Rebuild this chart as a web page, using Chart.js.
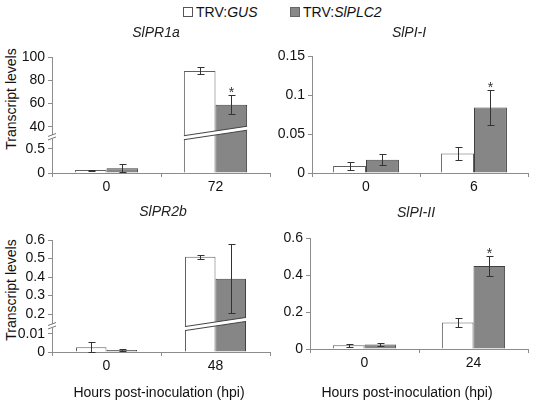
<!DOCTYPE html>
<html>
<head>
<meta charset="utf-8">
<script src="https://cdn.jsdelivr.net/npm/chart.js@4.4.1/dist/chart.umd.min.js"></script>
<style>
body { margin: 0; background: #fff; width: 533px; height: 403px; position: relative; overflow: hidden;
       font-family: "Liberation Sans", Arial, sans-serif; color: #111; }
.box { position: absolute; }
.lg { position: absolute; top: 4px; font-size: 14px; line-height: 16px; white-space: nowrap; }
.sw { display: inline-block; width: 8px; height: 8px; border: 1px solid #555; margin-right: 3px; vertical-align: 0px; }
.yt { position: absolute; font-size: 14px; white-space: nowrap; transform: translate(-50%, -50%) rotate(-90deg); }
.tt { position: absolute; font-size: 14px; white-space: nowrap; transform: translate(-50%, -50%); }
.tt.it { font-style: italic; color: #222; }
</style>
</head>
<body>
<div class="lg" style="left:183px"><span class="sw" style="background:#fff"></span>TRV:<i>GUS</i></div>
<div class="lg" style="left:290px"><span class="sw" style="background:#888;border-color:#666"></span>TRV:<i>SlPLC2</i></div>
<div class="yt" style="left:11px; top:99px">Transcript levels</div>
<div class="yt" style="left:11px; top:290px">Transcript levels</div>

<div class="box" style="left:0px; top:0px; width:272px; height:200px"><canvas id="c1" width="272" height="200"></canvas></div>
<div class="box" style="left:260px; top:0px; width:273px; height:200px"><canvas id="c2" width="273" height="200"></canvas></div>
<div class="box" style="left:0px; top:190px; width:272px; height:213px"><canvas id="c3" width="272" height="213"></canvas></div>
<div class="box" style="left:260px; top:190px; width:273px; height:213px"><canvas id="c4" width="273" height="213"></canvas></div>

<div class="tt it" style="left:156px; top:32px">SlPR1a</div>
<div class="tt it" style="left:409px; top:32px">SlPI-I</div>
<div class="tt it" style="left:163px; top:211px">SlPR2b</div>
<div class="tt it" style="left:416px; top:212px">SlPI-II</div>
<div class="tt" style="left:159px; top:392px">Hours post-inoculation (hpi)</div>
<div class="tt" style="left:407px; top:392px">Hours post-inoculation (hpi)</div>

<script>
// SlPR1a
const pr1aHours = ['0', '72'];
const pr1aGus = [0.06, 88];
const pr1aGusErr = [0.01, 3];
const pr1aPlc2 = [0.1, 59];
const pr1aPlc2Err = [0.08, 8];
const pr1aStars = [false, true];
const pr1aTicks = [0, 0.5, 40, 60, 80, 100];

// SlPI-I
const pi1Hours = ['0', '6'];
const pi1Gus = [0.009, 0.025];
const pi1GusErr = [0.005, 0.008];
const pi1Plc2 = [0.017, 0.084];
const pi1Plc2Err = [0.007, 0.022];
const pi1Stars = [false, true];
const pi1Ticks = [0, 0.05, 0.1, 0.15];

// SlPR2b
const pr2bHours = ['0', '48'];
const pr2bGus = [0.0026, 0.51];
const pr2bGusErr = [0.0027, 0.01];
const pr2bPlc2 = [0.0011, 0.39];
const pr2bPlc2Err = [0.0005, 0.187];
const pr2bStars = [false, false];
const pr2bTicks = [0, 0.01, 0.2, 0.3, 0.4, 0.5, 0.6];

// SlPI-II
const pi2Hours = ['0', '24'];
const pi2Gus = [0.02, 0.143];
const pi2GusErr = [0.007, 0.024];
const pi2Plc2 = [0.025, 0.448];
const pi2Plc2Err = [0.008, 0.054];
const pi2Stars = [false, true];
const pi2Ticks = [0, 0.2, 0.4, 0.6];

const FONT = '"Liberation Sans", Arial, sans-serif';
const AXIS = '#8c8c8c';

// linear axis with piecewise segments (used for the broken axes)
class BrokenScale extends Chart.LinearScale {
  toDecimal(v) {
    const xs = this.options.anchorValues, fs = this.options.anchorFracs;
    if (v <= xs[0]) return fs[0];
    for (let i = 1; i < xs.length; i++) {
      if (v <= xs[i]) return fs[i - 1] + (v - xs[i - 1]) / (xs[i] - xs[i - 1]) * (fs[i] - fs[i - 1]);
    }
    const n = xs.length - 1;
    return fs[n] + (v - xs[n]) / (xs[n] - xs[n - 1]) * (fs[n] - fs[n - 1]);
  }
  buildTicks() {
    return this.options.tickValues.map(v => ({ value: v }));
  }
  getPixelForValue(v) {
    return this.getPixelForDecimal(this.toDecimal(v));
  }
  getValueForPixel(p) {
    const d = this.getDecimalForPixel(p);
    const xs = this.options.anchorValues, fs = this.options.anchorFracs;
    for (let i = 1; i < xs.length; i++) {
      if (d <= fs[i]) return xs[i - 1] + (d - fs[i - 1]) / (fs[i] - fs[i - 1]) * (xs[i] - xs[i - 1]);
    }
    return xs[xs.length - 1];
  }
}
BrokenScale.id = 'broken';
Chart.register(BrokenScale);

const brokenAxis = {
  id: 'brokenAxis',
  afterDatasetsDraw(chart, args, opts) {
    if (!opts || opts.lo === undefined) return;
    const y = chart.scales.y, ctx = chart.ctx;
    const mid = (y.getPixelForValue(opts.lo) + y.getPixelForValue(opts.hi)) / 2;
    const a = chart.getDatasetMeta(0).data[opts.index];
    const b = chart.getDatasetMeta(1).data[opts.index];
    const xl = a.x - a.width / 2, xr = b.x + b.width / 2, xc = (xl + xr) / 2;
    const yc = mid + opts.bandShift, k = -0.15, h = 2;
    ctx.save();
    ctx.fillStyle = '#fff';
    ctx.beginPath();
    ctx.moveTo(xl, yc + k * (xl - xc) - h);
    ctx.lineTo(xr, yc + k * (xr - xc) - h);
    ctx.lineTo(xr, yc + k * (xr - xc) + h);
    ctx.lineTo(xl, yc + k * (xl - xc) + h);
    ctx.closePath();
    ctx.fill();
    ctx.strokeStyle = '#444';
    ctx.lineWidth = 1;
    ctx.beginPath();
    ctx.moveTo(xl, yc + k * (xl - xc) - h);
    ctx.lineTo(xr, yc + k * (xr - xc) - h);
    ctx.moveTo(xl, yc + k * (xl - xc) + h);
    ctx.lineTo(xr, yc + k * (xr - xc) + h);
    ctx.stroke();
    // little break mark on the y axis
    const ax = chart.chartArea.left, am = mid + opts.axisShift;
    ctx.fillRect(ax - 1.5, am - 2, 3, 4);
    ctx.strokeStyle = '#777';
    ctx.beginPath();
    ctx.moveTo(ax - 4, am - 0.5); ctx.lineTo(ax + 4, am - 3.5);
    ctx.moveTo(ax - 4, am + 3); ctx.lineTo(ax + 4, am);
    ctx.stroke();
    ctx.restore();
  }
};

const errorBars = {
  id: 'errorBars',
  afterDatasetsDraw(chart) {
    const ctx = chart.ctx, y = chart.scales.y;
    ctx.save();
    ctx.strokeStyle = '#333';
    ctx.fillStyle = '#333';
    ctx.lineWidth = 1;
    chart.data.datasets.forEach((ds, i) => {
      chart.getDatasetMeta(i).data.forEach((bar, j) => {
        const v = ds.data[j], e = ds.errors[j];
        const top = Math.round(y.getPixelForValue(v + e)) + 0.5;
        const bot = Math.round(y.getPixelForValue(Math.max(v - e, 0))) + 0.5;
        const x = Math.round(bar.x) + 0.5;
        ctx.beginPath();
        ctx.moveTo(x, top); ctx.lineTo(x, bot);
        ctx.moveTo(x - 3, top); ctx.lineTo(x + 4, top);
        ctx.moveTo(x - 3, bot); ctx.lineTo(x + 4, bot);
        ctx.stroke();
        if (ds.stars[j]) {
          ctx.font = '14px ' + FONT;
          ctx.textAlign = 'center';
          ctx.textBaseline = 'alphabetic';
          ctx.fillText('*', x, top + 1);
        }
      });
    });
    ctx.restore();
  }
};

function panel(id, p) {
  new Chart(document.getElementById(id), {
    type: 'bar',
    data: {
      labels: p.hours,
      datasets: [
        { label: 'TRV:GUS', data: p.gus, errors: p.gusErr, stars: [false, false],
          backgroundColor: '#ffffff', borderColor: '#606060', borderWidth: 1 },
        { label: 'TRV:SlPLC2', data: p.plc2, errors: p.plc2Err, stars: p.stars,
          backgroundColor: '#868686', borderColor: '#404040', borderWidth: 1 }
      ]
    },
    plugins: [brokenAxis, errorBars],
    options: {
      responsive: false,
      animation: false,
      devicePixelRatio: 1,
      datasets: { bar: { categoryPercentage: p.cat, barPercentage: 1.0 } },
      layout: { padding: { left: 0, right: p.right, top: p.top, bottom: 0 } },
      plugins: {
        legend: { display: false },
        tooltip: { enabled: false },
        title: { display: false },
        brokenAxis: p.brk || {}
      },
      scales: {
        x: {
          grid: { display: true, drawOnChartArea: false, drawTicks: true, tickLength: 4, offset: true, color: AXIS },
          border: { display: true, color: AXIS },
          ticks: { color: '#111', padding: 2, font: { family: FONT, size: 14 } },
          afterFit: s => { s.height = p.xHeight; }
        },
        y: {
          type: 'broken',
          min: 0,
          max: p.ticks[p.ticks.length - 1],
          anchorValues: p.anchorValues,
          anchorFracs: p.anchorFracs,
          tickValues: p.ticks,
          grid: { display: true, drawOnChartArea: false, drawTicks: true, tickLength: 4, color: AXIS },
          border: { display: true, color: AXIS },
          ticks: { color: '#111', padding: 3, autoSkip: false, font: { family: FONT, size: 14 },
                   callback: v => String(v) },
          afterFit: s => { s.width = p.yWidth; }
        }
      }
    }
  });
}

panel('c1', {
  hours: pr1aHours, gus: pr1aGus, gusErr: pr1aGusErr, plc2: pr1aPlc2, plc2Err: pr1aPlc2Err,
  stars: pr1aStars, ticks: pr1aTicks, anchorValues: [0, 0.5, 40, 100], anchorFracs: [0, 0.207, 0.397, 1],
  brk: { lo: 0.5, hi: 40, index: 1, bandShift: -5, axisShift: -1 },
  cat: 0.58, right: 2, top: 57, yWidth: 52, xHeight: 27
});
panel('c2', {
  hours: pi1Hours, gus: pi1Gus, gusErr: pi1GusErr, plc2: pi1Plc2, plc2Err: pi1Plc2Err,
  stars: pi1Stars, ticks: pi1Ticks, anchorValues: [0, 0.15], anchorFracs: [0, 1],
  cat: 0.61, right: 5, top: 56, yWidth: 52, xHeight: 27
});
panel('c3', {
  hours: pr2bHours, gus: pr2bGus, gusErr: pr2bGusErr, plc2: pr2bPlc2, plc2Err: pr2bPlc2Err,
  stars: pr2bStars, ticks: pr2bTicks, anchorValues: [0, 0.01, 0.2, 0.6], anchorFracs: [0, 0.161, 0.339, 1],
  brk: { lo: 0.01, hi: 0.2, index: 1, bandShift: 0, axisShift: 2 },
  cat: 0.56, right: 2, top: 50, yWidth: 52, xHeight: 51
});
panel('c4', {
  hours: pi2Hours, gus: pi2Gus, gusErr: pi2GusErr, plc2: pi2Plc2, plc2Err: pi2Plc2Err,
  stars: pi2Stars, ticks: pi2Ticks, anchorValues: [0, 0.6], anchorFracs: [0, 1],
  cat: 0.58, right: 5, top: 48, yWidth: 50, xHeight: 54
});
</script>
</body>
</html>
